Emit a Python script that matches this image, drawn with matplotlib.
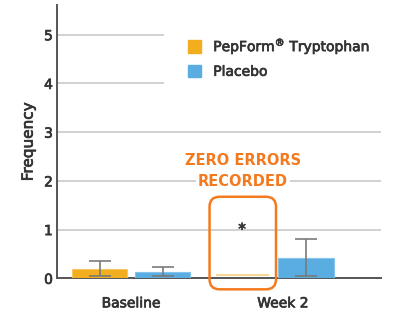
import matplotlib
matplotlib.use("Agg")
import matplotlib.pyplot as plt
import matplotlib.patheffects as pe
from matplotlib.patches import FancyBboxPatch, Patch
import numpy as np

plt.rcParams['font.family'] = ['DejaVu Sans']
plt.rcParams['mathtext.default'] = 'regular'

# mean frequency per group, with error bar limits
groups = ['Baseline', 'Week 2']
trt = [0.20, 0.0]
trt_low = [0.05, 0.0]
trt_high = [0.36, 0.0]
pla = [0.12, 0.42]
pla_low = [0.05, 0.05]
pla_high = [0.24, 0.81]

ORANGE = '#F2AE1F'
BLUE = '#5AADE0'
ACCENT = '#F47A20'
GRID = '#C9C9C9'
TXT = '#333333'

# slightly heavier strokes for the labels
heavy = [pe.withStroke(linewidth=0.5, foreground=TXT)]

fig = plt.figure(figsize=(4, 3.36), dpi=100)
ax = fig.add_axes([0.1425, 0.1717, 0.81, 0.8134])

x = np.arange(len(groups))
w = 0.39
off = 0.22

ax.bar(x[0] - off, trt[0], w, color=ORANGE, edgecolor='#F6C660', lw=0.8, zorder=3)
ax.bar(x + off, pla, w, color=BLUE, edgecolor='#86C3EA', lw=0.8, zorder=3)

# no errors recorded at week 2 for the treatment group: faint placeholder line
ax.hlines(0.06, x[1] - off - w / 2 + 0.01, x[1] - off + w / 2 - 0.01,
          color='#F7D895', lw=1.5, zorder=3)

t_mean = np.array(trt[:1])
ax.errorbar(x[:1] - off, t_mean,
            yerr=[t_mean - np.array(trt_low[:1]), np.array(trt_high[:1]) - t_mean],
            fmt='none', ecolor='#7A7A7A', elinewidth=1.2, capsize=8, capthick=1.2, zorder=4)
p_mean = np.array(pla)
ax.errorbar(x + off, p_mean,
            yerr=[p_mean - np.array(pla_low), np.array(pla_high) - p_mean],
            fmt='none', ecolor='#7A7A7A', elinewidth=1.2, capsize=8, capthick=1.2, zorder=4)

ax.set_xlim(-0.517, 1.745)
ax.set_ylim(0, 5.61)
ax.set_yticks([0, 1, 2, 3, 4, 5])
ax.yaxis.grid(True, color=GRID, lw=1.2)
ax.set_axisbelow(True)
ax.set_xticks(x + np.array([0, 0.06]))
ax.set_xticklabels(groups)
ax.tick_params(axis='both', length=0, labelsize=10, labelcolor=TXT)
ax.tick_params(axis='x', pad=13)
ax.tick_params(axis='y', pad=3)
ax.set_ylabel('Frequency', fontsize=11, color=TXT, labelpad=6, path_effects=heavy)
for lab in ax.get_xticklabels() + ax.get_yticklabels():
    lab.set_path_effects(heavy)

for s in ['top', 'right']:
    ax.spines[s].set_visible(False)
ax.spines['left'].set_color('#555555')
ax.spines['bottom'].set_color('#555555')
ax.spines['left'].set_linewidth(1.4)
ax.spines['bottom'].set_linewidth(1.4)

# callout for week 2 treatment
cx = x[1] - off
box = FancyBboxPatch((cx - w / 2 - 0.037, -0.226), w + 0.074, 1.90,
                     boxstyle='round,pad=0,rounding_size=0.07', mutation_aspect=2.94,
                     fc='none', ec=ACCENT, lw=1.8, clip_on=False, zorder=5)
ax.add_patch(box)
ax.text(cx - 0.005, 1.0, '*', ha='center', va='center', fontsize=11, color=TXT, zorder=6,
        path_effects=heavy)
ax.text(cx, 2.41, 'ZERO ERRORS', ha='center', va='center', fontsize=10.5,
        fontweight='bold', color=ACCENT, zorder=6)
ax.text(cx, 1.99, 'RECORDED', ha='center', va='center', fontsize=10.5,
        fontweight='bold', color=ACCENT, zorder=6,
        bbox=dict(fc='white', ec='none', pad=1.5))

handles = [Patch(color=ORANGE), Patch(color=BLUE)]
labels = [r'PepForm$^{®}$ Tryptophan', 'Placebo']
leg = ax.legend(handles, labels, loc='upper left', bbox_to_anchor=(0.33, 0.974),
                frameon=True, facecolor='white', edgecolor='none', framealpha=1,
                fontsize=10, handlelength=1.0, handleheight=1.0, handletextpad=0.85,
                labelspacing=0.55, borderpad=1.7, borderaxespad=0)
for t in leg.get_texts():
    t.set_color(TXT)
    t.set_path_effects(heavy)

fig.savefig('out.png', dpi=100)
